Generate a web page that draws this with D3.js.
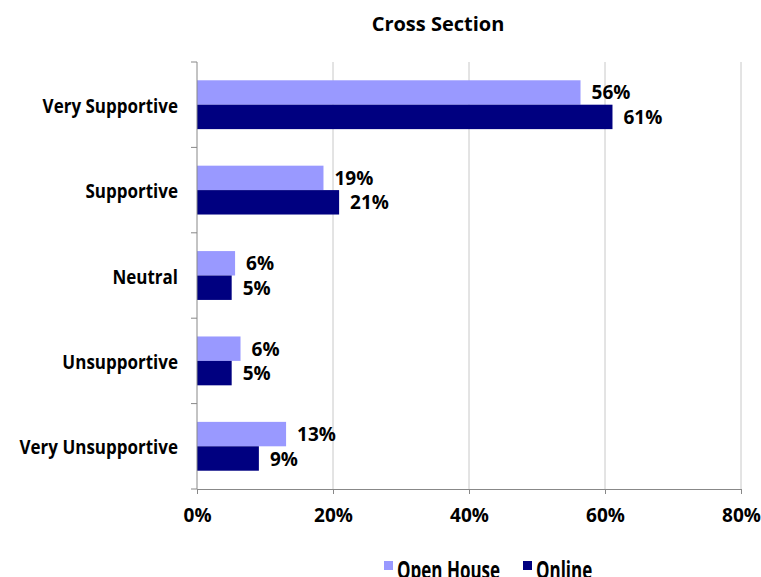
<!DOCTYPE html>
<html>
<head>
<meta charset="utf-8">
<script src="https://cdn.jsdelivr.net/npm/d3@7"></script>
<style>
  html, body { margin: 0; padding: 0; background: #fff; }
  svg { display: block; font-family: "Open Sans", "DejaVu Sans", sans-serif; font-weight: 700; }
</style>
</head>
<body>
<svg id="chart" width="761" height="577"></svg>
<script>
// Survey responses by level of support, two response channels
const categories = ["Very Supportive", "Supportive", "Neutral", "Unsupportive", "Very Unsupportive"];
const seriesNames = ["Open House", "Online"];
const openHouse = [0.564, 0.186, 0.056, 0.064, 0.131];
const online = [0.611, 0.209, 0.051, 0.051, 0.091];
const xTicks = [0, 0.2, 0.4, 0.6, 0.8];
const colors = ["#9999FF", "#000080"];

const svg = d3.select("#chart");
const plotTop = 62, plotBottom = 489;

const x = d3.scaleLinear().domain([0, 0.8]).range([197, 741]);
const y = d3.scaleBand().domain(categories).range([plotTop, plotBottom])
  .paddingInner(0.428).paddingOuter(0.214);
const ySub = d3.scaleBand().domain(seriesNames).range([0, y.bandwidth()]);

const rows = categories.map((c, i) => ({ cat: c, values: [openHouse[i], online[i]] }));

// title
svg.append("text")
  .attr("x", 438).attr("y", 31)
  .attr("text-anchor", "middle")
  .attr("font-size", 20)
  .attr("fill", "#000")
  .text("Cross Section");

// vertical gridlines
svg.append("g")
  .selectAll("line")
  .data(xTicks.filter(t => t > 0))
  .join("line")
  .attr("x1", d => x(d)).attr("x2", d => x(d))
  .attr("y1", plotTop).attr("y2", plotBottom)
  .attr("stroke", "#c8c8c8").attr("stroke-width", 1);

// bars
const groups = svg.append("g")
  .selectAll("g")
  .data(rows)
  .join("g")
  .attr("transform", d => `translate(0,${y(d.cat)})`);

groups.selectAll("rect")
  .data(d => d.values.map((v, j) => ({ v, s: seriesNames[j], j })))
  .join("rect")
  .attr("x", x(0))
  .attr("y", d => ySub(d.s))
  .attr("width", d => x(d.v) - x(0))
  .attr("height", ySub.bandwidth())
  .attr("fill", d => colors[d.j]);

// data labels
const fmt = d3.format(".0%");
groups.selectAll("text")
  .data(d => d.values.map((v, j) => ({ v, s: seriesNames[j], j })))
  .join("text")
  .attr("x", d => x(d.v) + 11)
  .attr("y", d => ySub(d.s) + ySub.bandwidth() / 2 + 7)
  .attr("font-size", 19)
  .attr("fill", "#000")
  .text(d => fmt(d.v));

// y axis with ticks between categories
const yAxisG = svg.append("g");
yAxisG.append("line")
  .attr("x1", x(0)).attr("x2", x(0))
  .attr("y1", plotTop).attr("y2", plotBottom)
  .attr("stroke", "#888");
const step = y.step();
const boundaries = d3.range(categories.length + 1).map(i => plotTop + i * step);
yAxisG.selectAll(".tk")
  .data(boundaries)
  .join("line")
  .attr("class", "tk")
  .attr("x1", x(0) - 6).attr("x2", x(0))
  .attr("y1", d => d).attr("y2", d => d)
  .attr("stroke", "#888");
yAxisG.selectAll("text")
  .data(categories)
  .join("text")
  .attr("transform", d => `translate(178,${y(d) + y.bandwidth() / 2}) scale(1,1.2)`)
  .attr("text-anchor", "end")
  .attr("dominant-baseline", "central")
  .attr("font-size", 17)
  .attr("fill", "#000")
  .text(d => d);

// x axis
const xAxis = d3.axisBottom(x).tickValues(xTicks).tickFormat(d3.format(".0%")).tickSize(5);
const xg = svg.append("g").attr("transform", `translate(0,${plotBottom})`).call(xAxis);
xg.select(".domain").attr("stroke", "#888");
xg.selectAll(".tick line").attr("stroke", "#888");
xg.selectAll(".tick text")
  .attr("y", 33)
  .attr("dy", null)
  .attr("font-size", 19)
  .attr("font-family", "'Open Sans', sans-serif")
  .attr("font-weight", 700)
  .attr("fill", "#000");

// legend (sits at the lower edge of the chart area)
const legend = svg.append("g");
const legendItems = [{ name: seriesNames[0], x: 384 }, { name: seriesNames[1], x: 523 }];
legend.selectAll("rect")
  .data(legendItems)
  .join("rect")
  .attr("x", d => d.x).attr("y", 561)
  .attr("width", 9).attr("height", 9)
  .attr("fill", (d, i) => colors[i]);
legend.selectAll("text")
  .data(legendItems)
  .join("text")
  .attr("transform", d => `translate(${d.x + 13},579) scale(1,1.45)`)
  .attr("font-size", 17)
  .attr("fill", "#000")
  .text(d => d.name);
</script>
</body>
</html>
